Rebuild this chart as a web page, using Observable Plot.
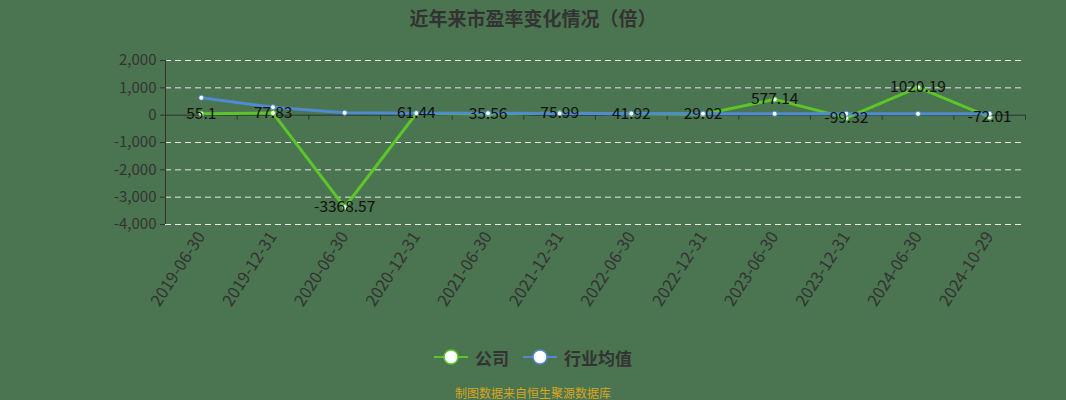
<!DOCTYPE html>
<html><head><meta charset="utf-8">
<script src="https://cdn.jsdelivr.net/npm/d3@7"></script>
<script src="https://cdn.jsdelivr.net/npm/@observablehq/plot@0.6"></script>
<style>
body{margin:0;background:#4b7450;width:1066px;height:400px;overflow:hidden;font-family:"Noto Sans CJK SC","Noto Sans",sans-serif;}
#title{height:35px;line-height:35px;text-align:center;font-size:19px;font-weight:bold;color:#333;}
#chart svg{display:block;}
#legend{height:34px;display:flex;justify-content:center;align-items:center;gap:14px;font-size:17px;font-weight:bold;color:#333;}
#legend .item{display:flex;align-items:center;gap:7px;}
#caption{margin-top:6px;height:26px;line-height:26px;text-align:center;font-size:12px;color:#d9a521;}
</style></head>
<body>
<div id="title">近年来市盈率变化情况（倍）</div>
<div id="chart"></div>
<div id="legend"></div>
<div id="caption">制图数据来自恒生聚源数据库</div>
<script>
const dates = ["2019-06-30","2019-12-31","2020-06-30","2020-12-31","2021-06-30","2021-12-31","2022-06-30","2022-12-31","2023-06-30","2023-12-31","2024-06-30","2024-10-29"];
const company = [55.1, 77.83, -3368.57, 61.44, 35.56, 75.99, 41.92, 29.02, 577.14, -99.32, 1020.19, -72.01];
const industry = [637, 293, 88, 73, 70, 65, 60, 55, 52, 50, 50, 50];
const yTicks = [2000, 1000, 0, -1000, -2000, -3000, -4000];
const seriesNames = ["公司", "行业均值"];
const colors = ["#5cc52a", "#4e8bd0"];

const n = dates.length;
const idx = d3.range(n);
const rows = idx.map(i => ({i, company: company[i], industry: industry[i], label: String(company[i])}));
const bounds = d3.range(n + 1).map(i => i - 0.5);
const fmt = d => d3.format(",")(d).replace("\u2212", "-");

const chart = Plot.plot({
  width: 1066, height: 305,
  marginLeft: 165, marginRight: 41, marginTop: 25, marginBottom: 116,
  style: {background: "transparent", color: "#333", fontSize: "14px", fontFamily: "'Noto Sans CJK SC','Noto Sans',sans-serif", overflow: "visible"},
  x: {domain: [-0.5, n - 0.5], axis: null},
  y: {domain: [-4000, 2000], axis: null},
  marks: [
    Plot.ruleY(yTicks.filter(v => v !== 0), {stroke: "#e6e6e6", strokeDasharray: "6,4", strokeWidth: 1}),
    Plot.ruleY([0], {stroke: "#333", strokeWidth: 1}),
    Plot.ruleX([-0.5], {stroke: "#333", strokeWidth: 1}),
    Plot.ruleX(bounds, {y1: 0, y2: 0, insetBottom: -5, stroke: "#333", strokeWidth: 1}),
    Plot.axisY({ticks: yTicks, tickFormat: fmt, tickSize: 5, tickPadding: 4, stroke: "#333", fill: "#333", fontSize: 15, label: null}),
    Plot.axisX({ticks: idx, tickFormat: i => dates[i], tickRotate: -57, tickSize: 0, tickPadding: 9, fill: "#333", fontSize: 16.5, label: null}),
    Plot.line(rows, {x: "i", y: "company", stroke: colors[0], strokeWidth: 3}),
    Plot.line(rows, {x: "i", y: "industry", stroke: colors[1], strokeWidth: 3}),
    Plot.dot(rows, {x: "i", y: "company", r: 2.5, fill: "white", stroke: colors[0], strokeWidth: 1}),
    Plot.dot(rows, {x: "i", y: "industry", r: 2.5, fill: "white", stroke: colors[1], strokeWidth: 1}),
    Plot.text(rows, {x: "i", y: "company", text: "label", fill: "#111", fontSize: 15.5})
  ]
});
document.getElementById("chart").appendChild(chart);

const legend = document.getElementById("legend");
seriesNames.forEach((name, k) => {
  const item = document.createElement("div");
  item.className = "item";
  item.innerHTML = `<svg width="34" height="18"><line x1="0" x2="34" y1="9" y2="9" stroke="${colors[k]}" stroke-width="2"/><circle cx="17" cy="9" r="7" fill="white" stroke="${colors[k]}" stroke-width="1.5"/></svg><span>${name}</span>`;
  legend.appendChild(item);
});
</script>
</body></html>
